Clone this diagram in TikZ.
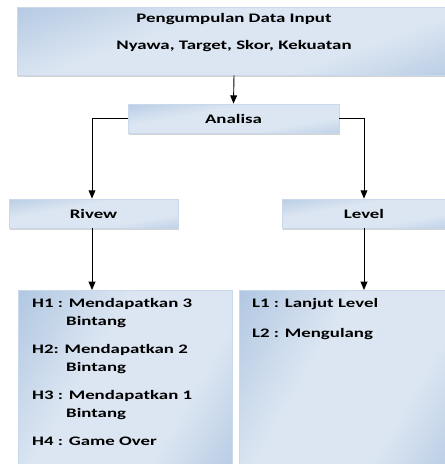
\documentclass[tikz,border=0pt]{standalone}
\usepackage{fontspec}
\setmainfont{Carlito}[FakeStretch=1.45]
\usetikzlibrary{arrows}
\usetikzlibrary{calc}
\usetikzlibrary{positioning}
\usetikzlibrary{shadows}

\definecolor{boxdark}{HTML}{95B3D7}
\definecolor{boxlight}{HTML}{DCE6F2}
\definecolor{boxline}{HTML}{C9D9EC}
\pgfdeclarehorizontalshading{boxshade}{100bp}{color(0bp)=(boxdark); color(35bp)=(boxlight); color(60bp)=(boxlight); color(100bp)=(boxdark)}

\tikzset{
  kotak/.style={draw=boxline, line width=0.8pt, shading=boxshade, shading angle=#1,
    drop shadow={shadow xshift=1pt, shadow yshift=-1.5pt, opacity=0.35},
    font=\bfseries\fontsize{13}{18}\selectfont, inner sep=0pt},
  kotak/.default=100,
  teks/.style={font=\bfseries\fontsize{13}{18}\selectfont, inner sep=0pt},
  panah/.style={-triangle 45, line width=0.9pt},
}

\begin{document}
\begin{tikzpicture}[x=1pt, y=-1pt]

\useasboundingbox (0,0) rectangle (445,464);
\clip (0,0) rectangle (445,464);

% boxes
\node[kotak=110, minimum width=434pt, minimum height=68pt] (input) at (234,41) {};
\node[teks] (judul) at (234,19) {Pengumpulan Data Input};
\node[teks] (data) at (234,46) {Nyawa, Target, Skor, Kekuatan};

\node[kotak, minimum width=211pt, minimum height=29pt] (analisa) at (233.5,118.5) {Analisa};
\node[kotak, minimum width=169pt, minimum height=29pt] (rivew) at (93.5,213.5) {Rivew};
\node[kotak, minimum width=164pt, minimum height=29pt] (level) at (364,213.5) {Level};

\node[kotak=150, minimum width=214pt, minimum height=190pt, anchor=north west] (hasil) at (18,290) {};
\node[kotak=150, minimum width=213pt, minimum height=190pt, anchor=north west] (ulang) at (239,290) {};

% isi kotak bawah
\node[teks, align=left, anchor=north west] (daftarh) at ($(hasil.north west)+(14,8)$)
  {H1 : Mendapatkan 3\\ \hspace*{34pt}Bintang\\[10pt]
   H2: Mendapatkan 2\\ \hspace*{34pt}Bintang\\[10pt]
   H3 : Mendapatkan 1\\ \hspace*{34pt}Bintang\\[10pt]
   H4 : Game Over};
\node[teks, align=left, anchor=north west] (daftarl) at ($(ulang.north west)+(13,8)$)
  {L1 : Lanjut Level\\[12pt]
   L2 : Mengulang};

% connectors
\draw[panah] (input.south) -- (analisa.north);
\draw[panah] (analisa.west) -| ([xshift=-1.5pt]rivew.north);
\draw[panah] (analisa.east) -| (level.north);
\draw[panah] ([xshift=-1.5pt]rivew.south) -- ([xshift=-1.5pt]rivew.south |- hasil.north);
\draw[panah] (level.south) -- (level.south |- ulang.north);

\end{tikzpicture}
\end{document}
